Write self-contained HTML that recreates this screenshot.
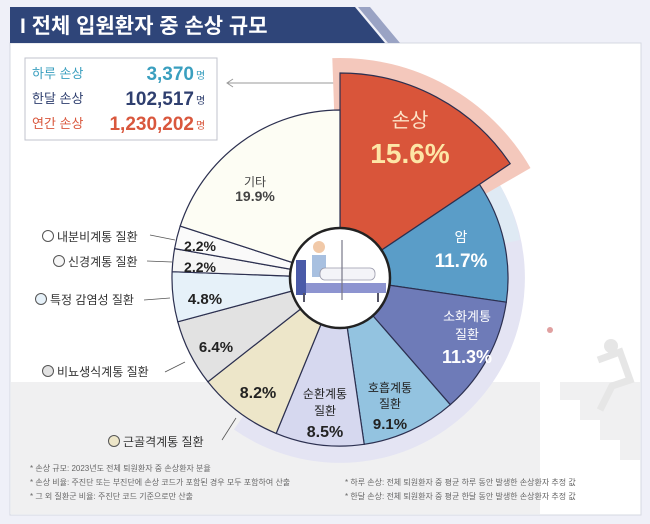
<!DOCTYPE html>
<html><head><meta charset="utf-8"><style>
body{margin:0;width:650px;height:524px;background:#eff0f8;overflow:hidden;font-family:"Liberation Sans","Noto Sans CJK KR",sans-serif;}
</style></head><body>
<svg width="650" height="524" xmlns="http://www.w3.org/2000/svg" style="position:absolute;left:0;top:0" font-family="Liberation Sans, Noto Sans CJK KR, sans-serif">
<rect x="10" y="43" width="631" height="472" fill="#fff" stroke="#d6d8e2"/>
<rect x="11" y="382" width="629" height="132" fill="#f0f0f1"/>
<!-- stairs -->
<path d="M540 382 L560 382 L560 400 L580 400 L580 420 L600 420 L600 440 L620 440 L620 460 L640 460 L640 514 L540 514Z" fill="#fff"/>
<circle cx="611" cy="346" r="7" fill="#e6e6e6"/><path d="M598 360 L620 352 L630 380 L612 386 L600 410" stroke="#e6e6e6" stroke-width="7" fill="none"/>
<circle cx="550" cy="330" r="3" fill="#e0a0a0"/>
<!-- title -->
<path d="M10 7 L355 7 L385 43 L10 43Z" fill="#2f4579"/>
<path d="M358 7 L370 7 L400 43 L388 43Z" fill="#9aa3c4"/>
<text x="20" y="33" font-size="21" font-weight="bold" fill="#fff">I 전체 입원환자 중 손상 규모</text>
<!-- info box -->
<rect x="25" y="58" width="192" height="82" fill="#fff" stroke="#c0c3cc"/>
<text x="32" y="78" font-size="13" fill="#3a9fbf">하루 손상</text>
<text x="32" y="103" font-size="13" fill="#2f3f6f">한달 손상</text>
<text x="32" y="128" font-size="13" fill="#d9573d">연간 손상</text>
<text x="194" y="80" font-size="19" font-weight="bold" fill="#3a9fbf" text-anchor="end">3,370</text>
<text x="194" y="105" font-size="19" font-weight="bold" fill="#2f3f6f" text-anchor="end">102,517</text>
<text x="194" y="130" font-size="19" font-weight="bold" fill="#d9573d" text-anchor="end">1,230,202</text>
<text x="196" y="79" font-size="10" fill="#3a9fbf">명</text>
<text x="196" y="104" font-size="10" fill="#2f3f6f">명</text>
<text x="196" y="129" font-size="10" fill="#d9573d">명</text>
<line x1="228" y1="83" x2="337" y2="83" stroke="#999"/><path d="M233 79 L227 83 L233 87" stroke="#999" fill="none"/>
<!-- background rings -->
<path d="M340 278 L493.4 174.6 A185 185 0 0 1 233.9 429.5Z" fill="#e4e4f3"/>
<path d="M340 278 L493.4 174.6 A185 185 0 0 1 520 240Z" fill="#dfeaf4"/>
<path d="M340 278 L332.3 58.1 A220 220 0 0 1 530.5 168Z" fill="#f4c8bc"/>
<!-- pie -->
<g stroke="#2c3050" stroke-width="1.2">
<path d="M340 278 L340 73 A205 205 0 0 1 510.2 163.7Z" fill="#d9553a"/>
<path d="M340 278 L479.5 184.4 A168 168 0 0 1 506.3 302.2Z" fill="#5a9dc8"/>
<path d="M340 278 L506.3 302.2 A168 168 0 0 1 450.3 404.7Z" fill="#6e7bb8"/>
<path d="M340 278 L450.3 404.7 A168 168 0 0 1 364.2 444.3Z" fill="#93c3e0"/>
<path d="M340 278 L364.2 444.3 A168 168 0 0 1 276.2 433.4Z" fill="#d6d8ef"/>
<path d="M340 278 L276.2 433.4 A168 168 0 0 1 207.9 381.8Z" fill="#ede6c9"/>
<path d="M340 278 L207.9 381.8 A168 168 0 0 1 177.8 321.8Z" fill="#e2e2e2"/>
<path d="M340 278 L177.8 321.8 A168 168 0 0 1 172.1 271.7Z" fill="#e6f1f9"/>
<path d="M340 278 L172.1 271.7 A168 168 0 0 1 174.6 248.6Z" fill="#f6f6f6"/>
<path d="M340 278 L174.6 248.6 A168 168 0 0 1 180.2 226.1Z" fill="#fafafa"/>
<path d="M340 278 L180.2 226.1 A168 168 0 0 1 340 110Z" fill="#fdfdf4"/>
</g>
<circle cx="340" cy="278" r="50" fill="#fff" stroke="#222" stroke-width="2.5"/>
<!-- bed icon -->
<rect x="296" y="283" width="90" height="10" fill="#8d94d0"/>
<rect x="296" y="260" width="10" height="35" fill="#4a5aa8"/>
<rect x="312" y="255" width="14" height="22" fill="#a8c0e0"/>
<circle cx="319" cy="247" r="6" fill="#f1c9a8"/>
<rect x="320" y="268" width="55" height="12" rx="5" fill="#f4f4f8" stroke="#99a" stroke-width=".8"/>
<line x1="342" y1="240" x2="342" y2="300" stroke="#778" stroke-width="1.2"/>
<line x1="304" y1="293" x2="304" y2="302" stroke="#556" stroke-width="2"/><line x1="378" y1="293" x2="378" y2="302" stroke="#556" stroke-width="2"/>
<!-- labels -->
<text x="410" y="127" font-size="20" fill="#fde4c8" text-anchor="middle">손상</text>
<text x="410" y="163" font-size="28" font-weight="bold" fill="#fde6a6" text-anchor="middle">15.6%</text>
<text x="255" y="186" font-size="12" fill="#444" text-anchor="middle">기타</text>
<text x="255" y="201" font-size="14" font-weight="bold" fill="#444" text-anchor="middle">19.9%</text>
<text x="461" y="242" font-size="14" fill="#fff" text-anchor="middle">암</text>
<text x="461" y="267" font-size="19" font-weight="bold" fill="#fff" text-anchor="middle">11.7%</text>
<text x="467" y="321" font-size="13" fill="#fff" text-anchor="middle">소화계통</text>
<text x="467" y="339" font-size="13" fill="#fff" text-anchor="middle">질환</text>
<text x="467" y="363" font-size="18" font-weight="bold" fill="#fff" text-anchor="middle">11.3%</text>
<text x="390" y="392" font-size="12" fill="#222" text-anchor="middle">호흡계통</text>
<text x="390" y="408" font-size="12" fill="#222" text-anchor="middle">질환</text>
<text x="390" y="429" font-size="15" font-weight="bold" fill="#222" text-anchor="middle">9.1%</text>
<text x="325" y="398" font-size="12" fill="#222" text-anchor="middle">순환계통</text>
<text x="325" y="415" font-size="12" fill="#222" text-anchor="middle">질환</text>
<text x="325" y="437" font-size="16" font-weight="bold" fill="#222" text-anchor="middle">8.5%</text>
<text x="258" y="398" font-size="16" font-weight="bold" fill="#222" text-anchor="middle">8.2%</text>
<text x="216" y="352" font-size="15" font-weight="bold" fill="#222" text-anchor="middle">6.4%</text>
<text x="205" y="304" font-size="15" font-weight="bold" fill="#222" text-anchor="middle">4.8%</text>
<text x="200" y="251" font-size="14" font-weight="bold" fill="#222" text-anchor="middle">2.2%</text>
<text x="200" y="272" font-size="14" font-weight="bold" fill="#222" text-anchor="middle">2.2%</text>
<g font-size="12" fill="#333">
<circle cx="48" cy="236" r="5.5" fill="#fff" stroke="#555"/><text x="57" y="241">내분비계통 질환</text>
<circle cx="59" cy="261" r="5.5" fill="#f6f6f6" stroke="#555"/><text x="68" y="266">신경계통 질환</text>
<circle cx="41" cy="299" r="5.5" fill="#e6f1f9" stroke="#555"/><text x="50" y="304">특정 감염성 질환</text>
<circle cx="48" cy="371" r="5.5" fill="#e2e2e2" stroke="#555"/><text x="57" y="376">비뇨생식계통 질환</text>
<circle cx="114" cy="441" r="5.5" fill="#ede6c9" stroke="#555"/><text x="123" y="446">근골격계통 질환</text>
</g>
<g stroke="#555" stroke-width=".8">
<line x1="150" y1="235" x2="175" y2="240"/><line x1="147" y1="261" x2="172" y2="262"/>
<line x1="144" y1="300" x2="170" y2="298"/><line x1="165" y1="372" x2="185" y2="362"/>
<line x1="222" y1="440" x2="236" y2="418"/>
</g>
<g font-size="8" fill="#666">
<text x="30" y="471">* 손상 규모: 2023년도 전체 퇴원환자 중 손상환자 분율</text>
<text x="30" y="485">* 손상 비율: 주진단 또는 부진단에 손상 코드가 포함된 경우 모두 포함하여 산출</text>
<text x="30" y="499">* 그 외 질환군 비율: 주진단 코드 기준으로만 산출</text>
<text x="345" y="485">* 하루 손상: 전체 퇴원환자 중 평균 하루 동안 발생한 손상환자 추정 값</text>
<text x="345" y="499">* 한달 손상: 전체 퇴원환자 중 평균 한달 동안 발생한 손상환자 추정 값</text>
</g>
</svg>
</body></html>
